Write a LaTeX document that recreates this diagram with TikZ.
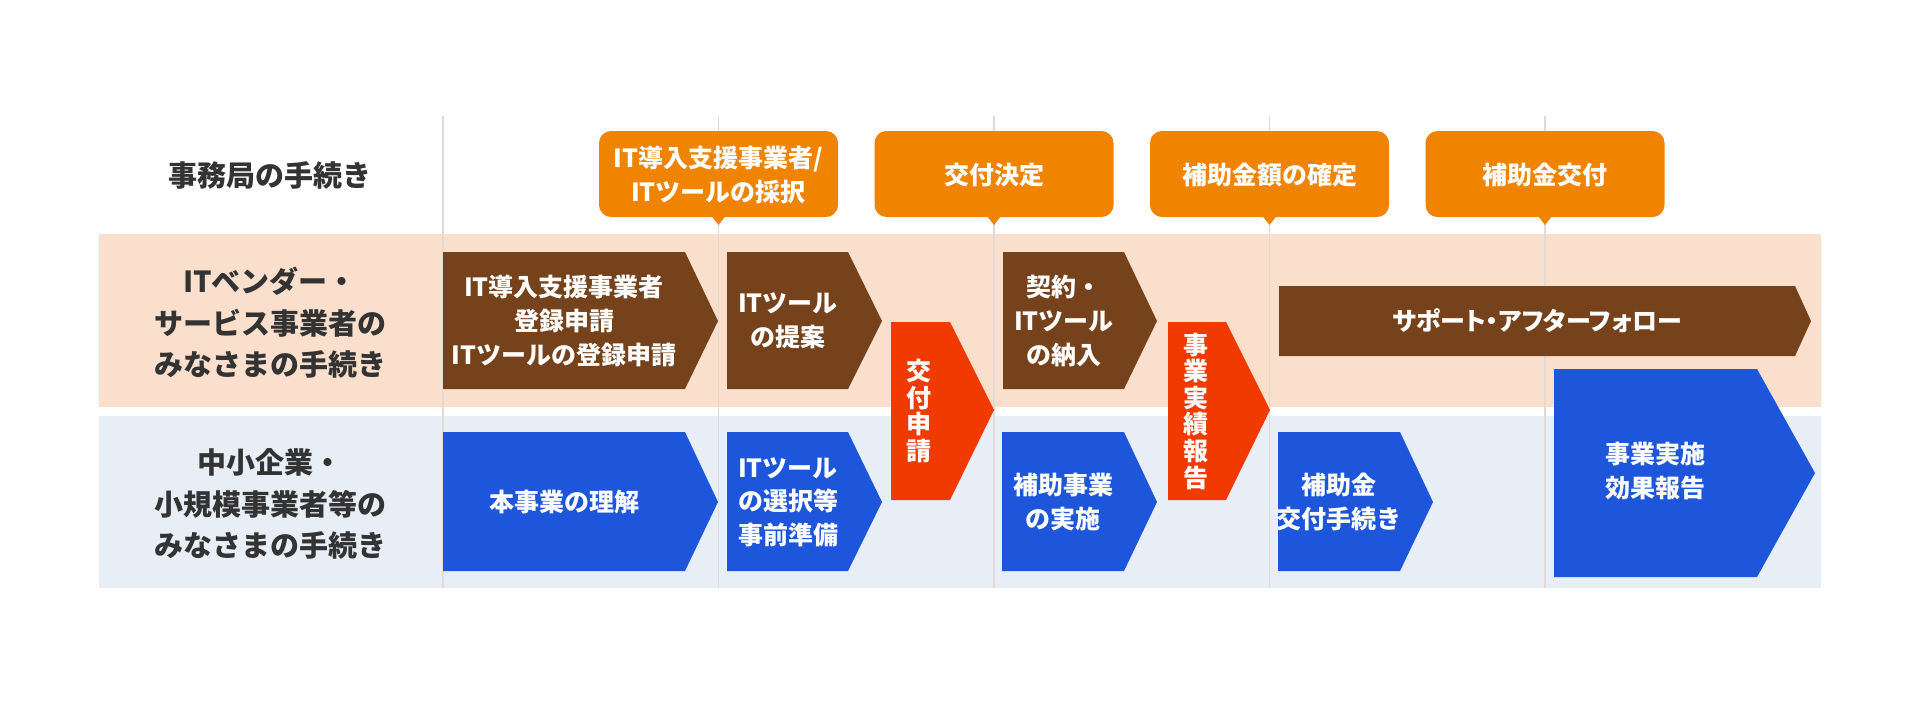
\documentclass[tikz,border=0pt]{standalone}
\usepackage{fontspec}
\setmainfont{Noto Sans CJK JP}

\definecolor{callorange}{RGB}{240,131,0}
\definecolor{vendorbrown}{RGB}{117,66,28}
\definecolor{applyred}{RGB}{240,58,0}
\definecolor{userblue}{RGB}{29,86,219}
\definecolor{vendorband}{RGB}{250,223,205}
\definecolor{userband}{RGB}{232,238,246}
\definecolor{labeltext}{RGB}{51,51,51}
\definecolor{divline}{RGB}{226,218,212}

\begin{document}
\begin{tikzpicture}[x=0.5pt,y=-0.5pt,
	rowlabel/.style={text=labeltext,align=center,font=\bfseries\fontsize{14.5}{20.7}\selectfont},
	boxtext/.style={text=white,align=center,font=\bfseries\fontsize{12.5}{16.8}\selectfont},
	tatetext/.style={text=white,align=center,font=\bfseries\fontsize{12.5}{13.3}\selectfont}]
		\useasboundingbox (0,0) rectangle (1920,720);
		
		% bands
		\fill[vendorband] (99,234) rectangle (1821,407);
		\fill[userband] (99,416) rectangle (1821,588);
		\foreach \x in {443,718.5,994,1269.5,1545}
		\draw[divline,line width=0.6pt] (\x,116) -- (\x,588);
		
		% row labels
		\node[rowlabel] (office) at (270,175) {事務局の手続き};
		\node[rowlabel] (vendor) at (270,323) {ITベンダー・\\サービス事業者の\\みなさまの手続き};
		\node[rowlabel] (user) at (270,504) {中小企業・\\小規模事業者等の\\みなさまの手続き};
		
		% callouts
		\foreach \x in {718.5,994,1269.5,1545}{
		\fill[callorange,rounded corners=6] (\x-119.5,131) rectangle (\x+119.5,217);
		\fill[callorange] (\x-7,216) -- (\x+7,216) -- (\x,225) -- cycle;
		}
		\node[boxtext] (adopt) at (718.5,175) {IT導入支援事業者/\\ITツールの採択};
		\node[boxtext] (decide) at (994,175) {交付決定};
		\node[boxtext] (settle) at (1269.5,175) {補助金額の確定};
		\node[boxtext] (payout) at (1545,175) {補助金交付};
		
		% vendor row
		\fill[vendorbrown] (443,252) -- (685,252) -- (718,321) -- (685,389) -- (443,389) -- cycle;
		\fill[vendorbrown] (727,252) -- (848,252) -- (882,321) -- (848,389) -- (727,389) -- cycle;
		\fill[vendorbrown] (1003,252) -- (1124,252) -- (1157,321) -- (1124,389) -- (1003,389) -- cycle;
		\fill[vendorbrown] (1279,286) -- (1795,286) -- (1811,321) -- (1795,356) -- (1279,356) -- cycle;
		\node[boxtext] (register) at (564,321) {IT導入支援事業者\\登録申請\\ITツールの登録申請};
		\node[boxtext] (propose) at (788,321) {ITツール\\の提案};
		\node[boxtext] (deliver) at (1064,321) {契約・\\ITツール\\の納入};
		\node[boxtext,font=\bfseries\fontsize{12.5}{16.8}\selectfont\addfontfeature{RawFeature=+palt}] (support) at (1537,321) {サポート・アフターフォロー};
		
		% applications
		\fill[applyred] (891,322) -- (950,322) -- (994,410) -- (950,500) -- (891,500) -- cycle;
		\fill[applyred] (1168,322) -- (1226,322) -- (1270,410) -- (1226,500) -- (1168,500) -- cycle;
		\node[tatetext] (apply) at (919,411) {交\\付\\申\\請};
		\node[tatetext] (report) at (1196,411) {事\\業\\実\\績\\報\\告};
		
		% user row
		\fill[userblue] (443,432) -- (685,432) -- (718,502) -- (685,571) -- (443,571) -- cycle;
		\fill[userblue] (727,432) -- (848,432) -- (882,502) -- (848,571) -- (727,571) -- cycle;
		\fill[userblue] (1002,432) -- (1124,432) -- (1157,502) -- (1124,571) -- (1002,571) -- cycle;
		\fill[userblue] (1278,432) -- (1400,432) -- (1433,502) -- (1400,571) -- (1278,571) -- cycle;
		\fill[userblue] (1554,369) -- (1757,369) -- (1815,473) -- (1757,577) -- (1554,577) -- cycle;
		\node[boxtext] (learn) at (564,502) {本事業の理解};
		\node[boxtext] (prepare) at (788,502) {ITツール\\の選択等\\事前準備};
		\node[boxtext] (carry) at (1063,502) {補助事業\\の実施};
		\node[boxtext] (claim) at (1339,502) {補助金\\交付手続き};
		\node[boxtext] (effect) at (1655,471) {事業実施\\効果報告};
	\end{tikzpicture}
\end{document}
